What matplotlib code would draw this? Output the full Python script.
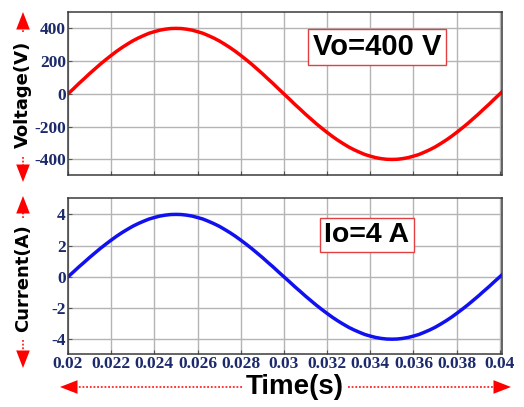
import numpy as np
import matplotlib
matplotlib.use('Agg')
import matplotlib.pyplot as plt
from matplotlib.lines import Line2D
from matplotlib.patches import FancyArrowPatch

# sampled output voltage (V), one sample every 0.25 ms from t = 0.02 s
voltage = [0, 31, 63, 93, 124, 153, 182, 209, 235, 260, 283, 304, 324, 341, 356, 370,
           380, 389, 395, 399, 400, 399, 395, 389, 380, 370, 356, 341, 324, 304, 283,
           260, 235, 209, 182, 153, 124, 93, 63, 31, 0, -31, -63, -93, -124, -153, -182,
           -209, -235, -260, -283, -304, -324, -341, -356, -370, -380, -389, -395, -399,
           -400, -399, -395, -389, -380, -370, -356, -341, -324, -304, -283, -260, -235,
           -209, -182, -153, -124, -93, -63, -31, 0, 31]
# sampled output current (A)
current = [0, 0.31, 0.63, 0.93, 1.24, 1.53, 1.82, 2.09, 2.35, 2.60, 2.83, 3.04, 3.24,
           3.41, 3.56, 3.70, 3.80, 3.89, 3.95, 3.99, 4.00, 3.99, 3.95, 3.89, 3.80, 3.70,
           3.56, 3.41, 3.24, 3.04, 2.83, 2.60, 2.35, 2.09, 1.82, 1.53, 1.24, 0.93, 0.63,
           0.31, 0, -0.31, -0.63, -0.93, -1.24, -1.53, -1.82, -2.09, -2.35, -2.60, -2.83,
           -3.04, -3.24, -3.41, -3.56, -3.70, -3.80, -3.89, -3.95, -3.99, -4.00, -3.99,
           -3.95, -3.89, -3.80, -3.70, -3.56, -3.41, -3.24, -3.04, -2.83, -2.60, -2.35,
           -2.09, -1.82, -1.53, -1.24, -0.93, -0.63, -0.31, 0, 0.31]
t_start = 0.02
t_step = 0.00025

x_ticks = [0.02, 0.022, 0.024, 0.026, 0.028, 0.03, 0.032, 0.034, 0.036, 0.038, 0.04]
x_labels = ['0.02', '0.022', '0.024', '0.026', '0.028', '0.03', '0.032', '0.034',
            '0.036', '0.038', '0.04']
v_ticks = [-400, -200, 0, 200, 400]
i_ticks = [-4, -2, 0, 2, 4]

W, H = 524, 407
TICK_COLOR = '#1c2a6b'
plt.rcParams['axes.unicode_minus'] = False


def fpos(x, y):
    "pixel coords (top-left origin) -> figure fraction"
    return x / W, 1 - y / H


def red_arrow(fig, start, tip, head=12):
    # dotted shaft + solid head, coordinates in pixels
    sx, sy = start
    tx, ty = tip
    d = np.hypot(tx - sx, ty - sy)
    ux, uy = (tx - sx) / d, (ty - sy) / d
    bx, by = tx - ux * head, ty - uy * head
    a, b = fpos(sx, sy), fpos(bx, by)
    fig.add_artist(Line2D([a[0], b[0]], [a[1], b[1]], transform=fig.transFigure,
                          color='red', lw=1.1, ls=(0, (1.2, 1.2))))
    fig.add_artist(FancyArrowPatch(
        fpos(bx, by), fpos(tx, ty), transform=fig.transFigure,
        arrowstyle='-|>,head_length=0.9,head_width=0.35', mutation_scale=14,
        color='red', lw=0, shrinkA=0, shrinkB=0))


def style_axes(ax, yticks, ylim):
    ax.set_xlim(0.02, 0.0401)
    ax.set_ylim(*ylim)
    ax.set_xticks(x_ticks)
    ax.set_yticks(yticks)
    ax.grid(True, color='#b4b4b4', lw=1.0)
    ax.set_axisbelow(True)
    for s in ax.spines.values():
        s.set_color('#3a3a3a')
        s.set_linewidth(1.1)
    ax.tick_params(direction='in', length=3, color='#555555', pad=1.5,
                   labelcolor=TICK_COLOR)
    for lbl in ax.get_yticklabels():
        lbl.set_fontfamily('Liberation Serif')
        lbl.set_fontweight('bold')
        lbl.set_fontsize(12.5)


fig = plt.figure(figsize=(W / 100, H / 100), dpi=100)
ax1 = fig.add_axes([68 / W, 1 - 175 / H, 434 / W, 163 / H])
ax2 = fig.add_axes([68 / W, 1 - 354 / H, 434 / W, 156 / H])

time = t_start + t_step * np.arange(len(voltage))
ax1.plot(time, voltage, color='#ff0000', lw=2.5)
ax2.plot(time, current, color='#1010f0', lw=2.5)

style_axes(ax1, v_ticks, (-495, 500))
ax1.set_xticklabels([])
style_axes(ax2, i_ticks, (-4.95, 5.05))
ax2.set_xticklabels(x_labels, family='Liberation Serif', weight='bold', fontsize=12.5)

box = dict(boxstyle='square,pad=0.15', facecolor='white', edgecolor='#e04040', lw=1.0)
ax1.text(0.712, 0.785, 'Vo=400 V', transform=ax1.transAxes, ha='center', va='center',
         family='Liberation Sans', weight='bold', fontsize=21, bbox=box)
ax2.text(0.689, 0.763, 'Io=4 A', transform=ax2.transAxes, ha='center', va='center',
         family='Liberation Sans', weight='bold', fontsize=20.5, bbox=box)

# axis titles with red arrows
fig.text(*fpos(23, 94), 'Voltage(V)', rotation=90, ha='center', va='center',
         family='DejaVu Sans', weight='bold', fontsize=13)
fig.text(*fpos(23, 278), 'Current(A)', rotation=90, ha='center', va='center',
         family='DejaVu Sans', weight='bold', fontsize=13)
fig.text(*fpos(295, 387), 'Time(s)', ha='center', va='center',
         family='Liberation Sans', weight='bold', fontsize=20)

red_arrow(fig, (23, 32), (23, 12))
red_arrow(fig, (23, 157), (23, 182))
red_arrow(fig, (23, 218), (23, 196))
red_arrow(fig, (23, 340), (23, 368))
red_arrow(fig, (242, 387), (60, 387))
red_arrow(fig, (348, 387), (511, 387))

fig.savefig('out.png', dpi=100)
